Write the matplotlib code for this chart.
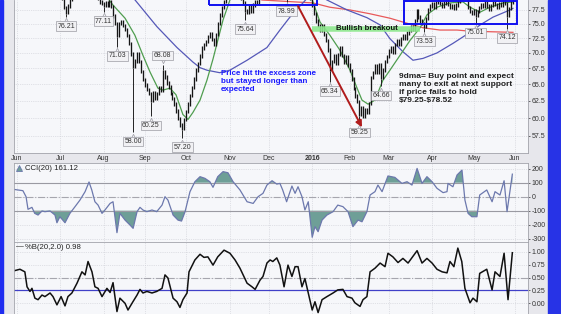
"""Daily candles with 20/50/200-day averages, CCI(20) and %B(20,2) panels."""
import matplotlib
matplotlib.use("Agg")
import matplotlib.pyplot as plt
import numpy as np
from matplotlib import transforms
from matplotlib.patches import Rectangle
from matplotlib.ticker import NullLocator

plt.rcParams["font.family"] = ["Liberation Sans", "DejaVu Sans"]

# closes, one per trading day (day 0 = 1 Jun 2015)
jun15 = [81.8, 82.3, 82.0, 81.4, 81.7, 81.1, 80.6, 80.9, 81.3, 80.8, 80.5,
         80.9, 80.4, 80.7, 81.0, 80.6, 80.2, 80.5, 80.9, 80.4, 79.9, 80.2]
jul15 = [80.1, 79.6, 77.9, 77.0, 78.2, 79.5, 80.2, 79.9, 80.5, 80.9, 80.6,
         81.1, 81.5, 81.0, 81.7, 82.0, 81.3, 80.5, 80.0, 79.6, 79.0, 78.7]
aug15 = [78.3, 78.9, 78.4, 79.0, 78.1, 76.4, 75.0, 73.0, 75.1, 75.4, 74.7,
         74.0, 72.9, 71.6, 69.8, 67.8, 68.7, 69.9, 68.6, 67.0, 65.7]
sep15 = [64.9, 64.2, 63.6, 62.5, 63.7, 62.8, 63.6, 64.4, 64.0, 67.0, 66.1,
         65.2, 64.6, 63.6, 62.8, 62.0, 61.0, 59.9, 59.0, 58.5, 59.8]
oct15 = [60.9, 62.0, 63.3, 64.5, 65.8, 67.2, 68.3, 69.5, 70.8, 71.4, 71.9,
         72.8, 73.3, 72.3, 71.5, 73.1, 75.0, 76.6, 78.0, 79.1, 79.9, 80.5]
nov15 = [80.9, 81.4, 81.0, 80.5, 80.1, 79.9, 79.6, 78.8, 77.4, 77.0, 78.1,
         77.3, 78.4, 79.0, 78.7, 79.8, 80.5, 81.1, 81.6, 81.2]
dec15 = [81.8, 82.2, 81.7, 82.4, 81.9, 81.2, 80.7, 80.2, 79.8, 80.4, 81.0,
         80.6, 81.2, 81.7, 81.3, 81.9, 81.4, 81.0, 80.6, 80.9, 80.3, 79.7]
jan16 = [78.3, 76.9, 75.5, 74.7, 73.9, 74.6, 73.1, 72.1, 70.5, 67.4, 68.6,
         69.5, 68.3, 69.7, 70.8, 69.6, 68.5, 69.3, 68.0]
feb16 = [67.1, 65.8, 64.3, 63.2, 62.4, 60.6, 61.5, 60.3, 61.2, 60.8, 62.1,
         66.0, 66.8, 67.9, 66.9, 68.0, 66.1, 67.2, 68.6, 69.4]
mar16 = [70.3, 70.9, 70.1, 71.4, 72.0, 71.5, 72.4, 72.9, 72.5, 73.4, 73.8,
         74.5, 74.0, 75.6, 77.4, 76.2, 75.5, 75.0, 74.6, 76.0, 77.6, 78.2]
apr16 = [78.6, 78.0, 78.9, 79.4, 78.7, 78.2, 78.8, 79.3, 78.5, 77.9, 78.3,
         77.8, 78.4, 79.1, 79.7, 80.2, 79.8, 80.5, 78.0, 77.2, 76.9]
may16 = [77.3, 76.6, 77.2, 77.9, 78.4, 78.1, 78.8, 78.2, 77.6, 78.3, 78.9,
         78.5, 78.0, 78.6, 78.3, 79.2, 78.7, 76.6, 77.8, 78.9, 79.6]

month_idx = [0, 22, 44, 65, 86, 108, 128, 150, 169, 189, 211, 232, 253]
month_lbl = ["Jun", "Jul", "Aug", "Sep", "Oct", "Nov", "Dec", "2016",
             "Feb", "Mar", "Apr", "May", "Jun"]

# labelled swing lows / highs (day index, price)
low_idx = [25, 44, 51, 59, 68, 84, 116, 137, 159, 174, 185, 207, 233, 249]
low_val = [76.21, 77.11, 71.03, 58.00, 60.25, 57.20, 75.64, 78.99, 65.34,
           59.25, 64.66, 73.53, 75.01, 74.12]
high_idx = [74]
high_val = [68.08]

# moving averages
ma20_idx = [45.7, 48.8, 54.9, 59.9, 64, 67.6, 71.6, 74.2, 77.7, 80.8, 84.3,
            86.9, 89.4, 93, 96.5, 99.6, 104.7, 108.2, 110.8,
            146.3, 150, 154, 159, 164, 169.2, 172.8, 175.3, 178.4, 181.9,
            185.9, 189.5, 194.6, 199.7, 204.8, 208.3, 213.4, 220, 226.6,
            230.2, 235.3, 240.3, 247, 252]
ma20_val = [79.9, 78.4, 76.0, 73.0, 69.6, 66.9, 64.4, 64.1, 64.4, 63.4, 60.5,
            59.8, 60.8, 62.6, 65.6, 69.0, 75.7, 79.35, 80.8,
            80.8, 79.35, 75.3, 73.0, 70.5, 67.2, 64.4, 62.6, 62.0, 62.6,
            65.6, 67.2, 69.6, 72.1, 74.3, 76.6, 78.0, 78.8, 79.0,
            78.0, 77.1, 78.0, 78.8, 79.0]
ma50_idx = [57.4, 60, 71.1, 81.3, 89.4, 93, 96.5, 103, 108.2, 116.9, 127,
            133.6, 140.2, 145.3, 147.9,
            155, 157.5, 167.7, 177.8, 184.5, 189.5, 196.1, 201.2, 206.3,
            213.4, 221.5, 230.2, 235.3, 241.9, 250.5, 252]
ma50_val = [80.3, 79.35, 74.5, 70.9, 68.5, 67.6, 67.2, 66.8, 67.2, 68.8, 70.9,
            73.9, 76.9, 78.8, 79.9,
            79.9, 79.35, 77.5, 76.1, 74.8, 72.4, 70.2, 68.8, 69.1,
            70.0, 71.6, 73.5, 74.8, 76.2, 77.5, 77.8]
ma200_idx = [121, 124.5, 150.4, 159, 169.2, 179.4, 189.5, 197.2, 206.3,
             214.9, 223.6, 230.2, 252]
ma200_val = [79.9, 79.35, 78.8, 78.0, 77.5, 76.8, 76.0, 75.2, 74.3,
             73.9, 73.9, 73.7, 73.5]

# CCI(20)
cci_idx = [-1.5, 3, 4.6, 5.6, 7.6, 9, 10.7, 12.7, 14.2, 16.8, 19.3, 20.3, 21.8,
           24.4, 26.9, 29.5, 32, 34.6, 36.6, 38, 39.6, 41.2, 43.2, 44.7, 47.3,
           48.8, 50.8, 52.3, 54.9, 57.4, 59, 61, 62.5, 64, 66, 68.6, 71, 73.7,
           75.2, 76.7, 79.3, 81.8, 83.6, 85.4, 87.9, 90.4, 93, 95.5, 98, 99.6,
           102, 104.7, 107.2, 109.8, 113.3, 116.9, 120, 122.5, 125, 127, 129.6,
           132, 133.6, 135, 137, 139.7, 141.3, 142.8, 144.8, 146.3, 148, 150,
           151.4, 153, 155, 157.5, 160.6, 163, 165.6, 168.2, 170.7, 173.3,
           175.3, 177.8, 179.4, 181.9, 183.4, 185.5, 188.5, 192, 195.6, 198.2,
           200.7, 203.3, 205.8, 208.3, 210.9, 213.4, 216.5, 218.5, 219, 221.5,
           223.6, 226.1, 227.6, 229.2, 231.1, 233.7, 235.1, 238.7, 241.4,
           242.9, 245.4, 247.5, 249, 251.7]
cci_val = [52, 43, 0, -90, -76, -119, -131, -102, -107, -102, -131, -186, -143,
           -186, -119, -71, -24, 36, 105, 48, -36, -60, -119, -95, -48,
           -36, -257, -119, -167, -202, -226, -107, -76, -95, -107, -95, -107, -60,
           0, -24, -131, -167, -174, -107, 36, 107, 143, 131, 107, 67,
           143, 179, 171, 107, 48, -36, -48, 0, 24, 83, 114,
           90, 95, 48, -36, 76, 24, 71, 0, -95, -36, -290,
           -214, -250, -167, -131, -107, -60, -71, -107, -214, -167,
           -179, -107, 12, 36, 83, 36, 148, 138, 95, 107,
           83, 202, 95, 143, 107, 60, 29, 36, 95, 71,
           155, 190, -24, -119, -143, -143, 12, 48, -36,
           36, 12, 114, -107, 161]

# %B(20,2)
pctb_idx = [-1.5, 1.5, 4, 5.1, 6.6, 7.6, 9.1, 10.7, 12.7, 14.2, 16.8, 18.3, 20.3,
            22.4, 24.4, 25.9, 27.9, 30.5, 33, 34.6, 36.1, 38.1, 39.6, 41.2,
            43.2, 45.7, 47.3, 48.8, 50.8, 52.3, 54.9, 56.4, 58.9, 61, 62.5, 64,
            66, 68.6, 71, 73.7, 75.2, 76.7, 79.3, 81.3, 82.8, 84.3, 86.4, 87.4,
            90.4, 93, 95, 97, 99.6, 102, 105.2, 108.2, 110.8, 113.3, 116.9,
            119.4, 121, 123.5, 125, 127, 128.6, 130, 132, 133.6, 135.7, 137.7,
            139.7, 141.3, 142.8, 144.8, 146.3, 148, 150, 151.4, 153, 155, 157.5,
            160.6, 163, 165.6, 167.7, 170.2, 171.7, 174.3, 175.8, 177.8, 179.4,
            181.9, 184.5, 187, 188.5, 191, 193.6, 196.1, 198.7, 203.3, 205.8,
            208.3, 210.9, 213.4, 216, 218.5, 220, 222, 224, 226, 227.6, 230.2,
            231.7, 233.7, 235.1, 238.7, 241.4, 242.9, 245.4, 247.5, 249.5, 251.7]
pctb_val = [0.63, 0.66, 0.61, 0.32, 0.23, 0.29, 0.10, 0.07, 0.16, 0.13, 0.20, 0.13,
            -0.03, 0.13, -0.05, 0.13, 0.20, 0.39, 0.61, 0.55, 0.81, 0.61, 0.32,
            0.29, 0.13, 0.29, 0.21, 0.40, -0.16, 0.10, 0.00, -0.13, 0.03, 0.16,
            0.27, 0.20, 0.23, 0.20, 0.23, 0.29, 0.55, 0.49, 0.10, 0.03, -0.08,
            0.07, 0.20, 0.61, 0.84, 0.95, 0.89, 0.90, 0.74, 0.90, 1.03, 0.97,
            0.84, 0.68, 0.39, 0.32, 0.27, 0.45, 0.52, 0.78, 0.84, 0.81, 0.88,
            0.74, 0.32, 0.74, 0.52, 0.71, 0.71, 0.32, 0.48, 0.20, -0.13, 0.03,
            -0.18, 0.07, 0.13, 0.20, 0.26, 0.27, 0.13, 0.10, 0.01, -0.06, 0.07,
            0.13, 0.61, 0.68, 0.78, 0.71, 0.97, 0.90, 0.79, 0.87, 0.78, 1.02,
            0.78, 0.87, 0.78, 0.66, 0.61, 0.59, 0.81, 0.71, 1.07, 0.81, 0.29,
            0.01, 0.10, 0.03, 0.58, 0.66, 0.26, 0.61, 0.52, 0.97, 0.07, 0.98]

price_ticks = [57.5, 60.0, 62.5, 65.0, 67.5, 70.0, 72.5, 75.0, 77.5]
cci_ticks = [200, 100, 0, -100, -200, -300]
pctb_ticks = [1.0, 0.75, 0.5, 0.25, 0.0]

W, H = 561, 314
BG = "#f6f7fa"
GRID = "#c9cad2"
XL = (-1.52, 259.65)


def rect(x0, y0, x1, y1):
    return [x0 / W, 1 - y1 / H, (x1 - x0) / W, (y1 - y0) / H]


def style(a):
    a.set_facecolor(BG)
    for s in a.spines.values():
        s.set_color("#a2a3ab")
        s.set_linewidth(0.6)
    a.yaxis.tick_right()
    a.tick_params(axis="y", length=1.5, width=0.5, colors="#333333",
                  labelsize=5, pad=1)
    a.tick_params(axis="x", length=0, labelsize=5, colors="#333333", pad=1.5)
    a.set_xlim(XL)
    a.set_xticks(month_idx)
    a.grid(True, color=GRID, ls=":", lw=0.5)
    a.set_axisbelow(True)


fig = plt.figure(figsize=(W / 100, H / 100), dpi=100, facecolor="#e7e7ec")
ax = fig.add_axes(rect(14, 0, 528, 153))
cx = fig.add_axes(rect(14, 163, 528, 242))
bx = fig.add_axes(rect(14, 242, 528, 316))
for a in (ax, cx, bx):
    style(a)

# ---- price panel ----
close = np.array(jun15 + jul15 + aug15 + sep15 + oct15 + nov15 + dec15
                 + jan16 + feb16 + mar16 + apr16 + may16)
days = np.arange(len(close))
opn = np.r_[close[0], close[:-1]]
lo = np.minimum(opn, close) * 0.996
hi = np.maximum(opn, close) * 1.004
ax.vlines(days, lo, hi, color="#151515", lw=0.95, zorder=4)
ax.vlines(low_idx, low_val, lo[low_idx], color="#222222", lw=0.7, zorder=4)
ax.vlines(high_idx, hi[high_idx], high_val, color="#222222", lw=0.7, zorder=4)

ax.plot(ma200_idx, ma200_val, color="#e8595a", lw=0.9, zorder=3)
ax.plot(ma50_idx, ma50_val, color="#5558b8", lw=0.9, zorder=3)
ax.plot(ma20_idx, ma20_val, color="#4f9d4f", lw=0.9, zorder=3)

ax.set_yscale("log")
ax.set_ylim(55.23, 79.35)
ax.set_yticks(price_ticks)
ax.set_yticklabels([f"{t:.1f}" for t in price_ticks])
ax.yaxis.set_minor_locator(NullLocator())
ax.spines["top"].set_visible(False)
ax.set_xticklabels(month_lbl)
for t in ax.get_xticklabels():
    if t.get_text() == "2016":
        t.set_fontweight("bold")


def tag(i, v, below=True):
    sgn = -1 if below else 1
    ax.annotate(f"{v:.2f}", xy=(i, v), xytext=(0, sgn * 6.6),
                textcoords="offset points", ha="center", va="center",
                fontsize=5, color="#333333", zorder=7,
                bbox=dict(boxstyle="square,pad=0.2", fc="#f1f1f4",
                          ec="#9c9ca4", lw=0.5))
    tri = transforms.offset_copy(ax.transData, fig=fig, x=0, y=sgn * 2.4,
                                 units="points")
    ax.plot([i], [v], marker="^" if below else "v", ms=3.2, mfc="#f1f1f4",
            mec="#9c9ca4", mew=0.5, transform=tri, zorder=6)


for i, v in zip(low_idx, low_val):
    tag(i, v, True)
for i, v in zip(high_idx, high_val):
    tag(i, v, False)

# annotations drawn on the chart
ax.add_patch(Rectangle((97.6, 78.42), 152.4 - 97.6, 10, fill=False,
                       ec="#1010f0", lw=1.4, zorder=8))
ax.add_patch(Rectangle((196.6, 75.0), 254.0 - 196.6, 79.25 - 75.0, fill=False,
                       ec="#1010f0", lw=1.4, zorder=8))
ax.annotate("", xy=(175.3, 58.7), xytext=(142.8, 78.2),
            arrowprops=dict(arrowstyle="-|>", color="#b01c1c", lw=1.4,
                            mutation_scale=9, shrinkA=0, shrinkB=0), zorder=8)
ax.plot([149.9, 204.8], [74.05, 74.05], color="#8ee88e", lw=4, alpha=0.9,
        solid_capstyle="butt", zorder=7)
ax.text(177.6, 74.2, "Bullish breakout", fontsize=5.7, fontweight="bold",
        color="#111111", ha="center", va="center", zorder=9)
ax.text(103.7, 65.4, "Price hit the excess zone\nbut stayed longer than\nexpected",
        fontsize=5.8, fontweight="bold", color="#1a1aff", ha="left",
        va="center", linespacing=1.2, zorder=9)
ax.text(194.1, 64.4, "9dma= Buy point and expect\nmany to exit at next support\n"
        "if price fails to hold\n\\$79.25-\\$78.52", fontsize=6.0,
        fontweight="bold", color="#222222", ha="left", va="center",
        linespacing=1.2, zorder=9)

# ---- CCI panel ----
ci = np.array(cci_idx, float)
cv = np.array(cci_val, float)
cx.fill_between(ci, cv, 100, where=cv > 100, interpolate=True,
                color="#6e9f97", lw=0)
cx.fill_between(ci, cv, -100, where=cv < -100, interpolate=True,
                color="#6e9f97", lw=0)
cx.axhline(100, color="#9a9aa2", lw=0.8)
cx.axhline(-100, color="#9a9aa2", lw=0.8)
cx.axhline(0, color="#a6a6ae", lw=0.8, ls="-.")
cx.plot(ci, cv, color="#6c78ad", lw=0.9)
cx.set_ylim(-323.6, 240.7)
cx.set_yticks(cci_ticks)
cx.set_yticklabels([str(t) for t in cci_ticks])
cx.set_xticklabels([])
cx.plot([0.0105], [0.935], marker="^", ms=4, mfc="#6e9f97", mec="#6c78ad",
        mew=0.6, transform=cx.transAxes, clip_on=False)
cx.text(0.0215, 0.935, "CCI(20) 161.12", transform=cx.transAxes, fontsize=5.6,
        color="#222222", ha="left", va="center")

# ---- %B panel ----
bx.axhline(0.25, color="#4040c8", lw=0.9)
bx.axhline(0.5, color="#a6a6ae", lw=0.8, ls="-.")
bx.plot(pctb_idx, pctb_val, color="#111111", lw=1.1)
bx.set_ylim(-0.246, 1.188)
bx.set_yticks(pctb_ticks)
bx.set_yticklabels([f"{t:.2f}" for t in pctb_ticks])
bx.set_xticklabels([])
bx.spines["bottom"].set_visible(False)
bx.text(0.004, 0.932, "\u2014", transform=bx.transAxes, fontsize=5.6,
        color="#111111", ha="left", va="center")
bx.text(0.0215, 0.932, "%B(20,2.0) 0.98", transform=bx.transAxes, fontsize=5.6,
        color="#222222", ha="left", va="center")

# blue frame strips at the image edges
fig.patches.append(Rectangle((0, 0), 2.5 / W, 1, transform=fig.transFigure,
                             color="#1f2cf0", zorder=10))
fig.patches.append(Rectangle((548 / W, 0), 13 / W, 1, transform=fig.transFigure,
                             color="#2733e6", zorder=10))

fig.savefig("out.png", dpi=100, facecolor=fig.get_facecolor())
